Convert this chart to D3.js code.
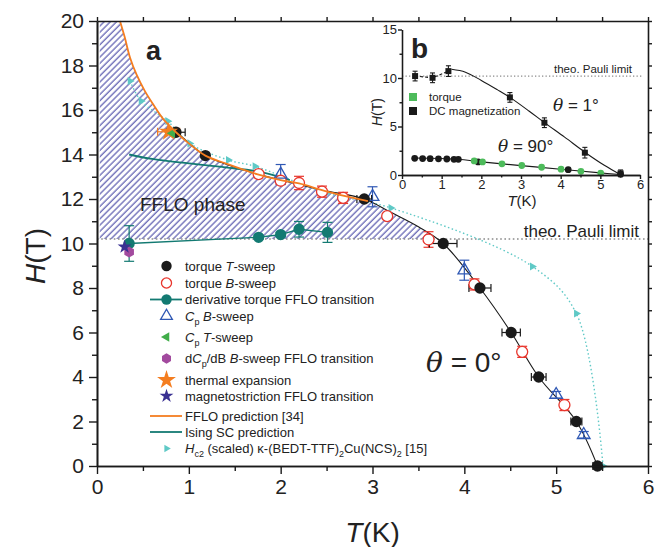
<!DOCTYPE html>
<html>
<head>
<meta charset="utf-8">
<script src="https://cdn.jsdelivr.net/npm/d3@7"></script>
<style>
  body { margin: 0; background: #fff; }
  svg { display: block; font-family: "Liberation Sans", Arial, sans-serif; }
</style>
</head>
<body>
<div id="chart-area"></div>
<script>
// SVG size
let width = 656,
	height = 547;

// ---- panel a data ----
let torqueT_T = [0.86, 1.18, 2.91, 3.77, 4.17, 4.51, 4.81, 5.22, 5.45];
let torqueT_H = [15.0, 13.95, 12.0, 10.0, 8.0, 6.0, 4.0, 2.0, 0.0];
let torqueT_dT = [0.1, 0, 0.08, 0.15, 0.12, 0.1, 0.08, 0.06, 0.05];

let torqueB_T = [1.76, 2.0, 2.2, 2.45, 2.68, 3.16, 3.61, 4.11, 4.63, 5.09];
let torqueB_H = [13.12, 12.82, 12.72, 12.33, 12.05, 11.23, 10.18, 8.16, 5.13, 2.74];
let torqueB_dH = [0.1, 0.15, 0.3, 0.25, 0.25, 0.1, 0.35, 0.25, 0.25, 0.25];

let deriv_T = [0.35, 1.76, 2.0, 2.2, 2.51];
let deriv_H = [10.0, 10.28, 10.4, 10.64, 10.5];
let deriv_dH = [0.8, 0.1, 0.1, 0.35, 0.45];

let cpB_T = [2.0, 3.0, 4.0, 5.0, 5.3];
let cpB_H = [13.1, 12.1, 8.8, 3.2, 1.4];
let cpB_dH = [0.45, 0.45, 0.45, 0.15, 0.15];

let cpT_T = [0.82];
let cpT_H = [14.95];

let dcp_T = [0.35];
let dcp_H = [9.62];

let thermal_T = [0.78];
let thermal_H = [15.02];
let thermal_dT = [0.12];

let magneto_T = [0.3];
let magneto_H = [9.85];

let ffloPred_T = [0.25, 0.3, 0.36, 0.43, 0.52, 0.62, 0.72, 0.86, 1.0, 1.18, 1.4, 1.74, 2.0, 2.2, 2.45, 2.68, 2.95];
let ffloPred_H = [20.0, 19.3, 18.35, 17.6, 16.86, 16.2, 15.6, 15.0, 14.5, 13.95, 13.6, 13.12, 12.85, 12.7, 12.4, 12.15, 11.9];

let ising_T = [0.35, 0.6, 1.0, 1.4, 1.8, 2.1];
let ising_H = [14.0, 13.8, 13.6, 13.42, 13.2, 12.85];

let hc2_T = [0.36, 0.48, 0.77, 1.01, 1.43, 1.72, 2.5, 3.2, 4.74, 5.22, 5.51];
let hc2_H = [17.3, 16.4, 15.5, 14.5, 13.75, 13.47, 12.27, 11.6, 8.97, 6.85, 0.0];

let fit_T = [0.78, 0.86, 1.18, 1.6, 2.0, 2.45, 2.91, 3.2, 3.5, 3.77, 4.17, 4.51, 4.81, 5.22, 5.45];
let fit_H = [15.15, 15.0, 13.95, 13.3, 12.85, 12.4, 12.0, 11.4, 10.75, 10.0, 8.0, 6.0, 4.0, 2.0, 0.0];

let pauliH = 10.2;
let hatchLeftT = 0.03;
let hatchRightT = 3.68;

let xTicks = [0, 1, 2, 3, 4, 5, 6];
let yTicks = [0, 2, 4, 6, 8, 10, 12, 14, 16, 18, 20];

// ---- panel b data ----
let mag1_T = [0.33, 0.77, 1.17, 2.72, 3.59, 4.61, 5.51];
let mag1_H = [10.2, 10.02, 10.71, 8.0, 5.39, 2.3, 0.17];
let mag1_dH = [0.5, 0.5, 0.55, 0.5, 0.5, 0.55, 0.35];

let mag90_T = [0.32, 0.52, 0.71, 0.92, 1.13, 1.31, 1.42, 1.92, 4.19, 5.51];
let mag90_H = [1.72, 1.7, 1.68, 1.67, 1.65, 1.62, 1.62, 1.35, 0.55, 0.1];

let torque90_T = [1.82, 2.03, 2.52, 3.02, 3.52, 4.01, 4.51, 5.01];
let torque90_H = [1.45, 1.35, 1.15, 0.98, 0.8, 0.6, 0.38, 0.2];

let fit1_T = [1.25, 1.6, 2.0, 2.4, 2.72, 3.2, 3.59, 4.1, 4.61, 5.1, 5.5];
let fit1_H = [10.9, 10.6, 9.75, 8.8, 8.0, 6.6, 5.4, 3.9, 2.35, 1.0, 0.05];
let dash1_T = [0.33, 0.77, 1.17, 1.25];
let dash1_H = [10.2, 10.02, 10.71, 10.9];

let fit90_T = [0.3, 1.4, 2.0, 3.0, 4.0, 5.0, 5.5];
let fit90_H = [1.75, 1.62, 1.35, 0.97, 0.6, 0.22, 0.05];

let insetXTicks = [0, 1, 2, 3, 4, 5, 6];
let insetYTicks = [0, 5, 10, 15];

// colours
const cBlack = "#1a1a1a", cRed = "#e8352c", cTeal = "#137a72", cBlue = "#2f58b4",
	cGreen = "#41ad4a", cPurple = "#a24a9e", cOrange = "#f47d20", cNavy = "#3a3192",
	cCyan = "#5fc9c6", cHatch = "#4a4aa6", cInsetGreen = "#4dbb5b";

let svg = d3.select("#chart-area")
	.append("svg")
	.attr("width", width)
	.attr("height", height);

let x = d3.scaleLinear().domain([0, 6]).range([97, 648]);
let y = d3.scaleLinear().domain([0, 20]).range([466, 21]);

let zip = (a, b) => a.map((v, i) => [v, b[i]]);

// hatch pattern
svg.append("defs").append("pattern")
	.attr("id", "hatch")
	.attr("patternUnits", "userSpaceOnUse")
	.attr("width", 4.4).attr("height", 4.4)
	.attr("patternTransform", "rotate(45)")
	.append("line")
	.attr("x1", 1).attr("y1", 0).attr("x2", 1).attr("y2", 4.4)
	.attr("stroke", cHatch).attr("stroke-width", 1.1);

// FFLO region polygon
let region = [[hatchLeftT, 20]]
	.concat(zip(ffloPred_T, ffloPred_H))
	.concat(zip(fit_T, fit_H).filter(d => d[0] > 2.95 && d[0] < hatchRightT))
	.concat([[hatchRightT, pauliH], [hatchLeftT, pauliH]]);

svg.append("path")
	.attr("d", d3.line().x(d => x(d[0])).y(d => y(d[1]))(region) + "Z")
	.attr("fill", "url(#hatch)");

// Pauli limit
svg.append("line")
	.attr("x1", x(0)).attr("x2", x(6))
	.attr("y1", y(pauliH)).attr("y2", y(pauliH))
	.attr("stroke", "#8a8a8a").attr("stroke-width", 1.6)
	.attr("stroke-dasharray", "1.6,2.6");

svg.append("text")
	.attr("x", 639).attr("y", 237)
	.attr("text-anchor", "end")
	.attr("font-size", 17)
	.attr("fill", "#222")
	.text("theo. Pauli limit");

// lines
let line = d3.line().x(d => x(d[0])).y(d => y(d[1])).curve(d3.curveCatmullRom);

svg.append("path").attr("d", line(zip(hc2_T, hc2_H)))
	.attr("fill", "none").attr("stroke", cCyan).attr("stroke-width", 1.4)
	.attr("stroke-dasharray", "1.5,2.5");

svg.append("path").attr("d", line(zip(fit_T, fit_H)))
	.attr("fill", "none").attr("stroke", cBlack).attr("stroke-width", 1.1);

svg.append("path").attr("d", d3.line().x(d => x(d[0])).y(d => y(d[1]))(zip(deriv_T, deriv_H)))
	.attr("fill", "none").attr("stroke", cTeal).attr("stroke-width", 1.3);

svg.append("path").attr("d", line(zip(ising_T, ising_H)))
	.attr("fill", "none").attr("stroke", cTeal).attr("stroke-width", 1.8);

// error bars
function errBarsV(Ts, Hs, dHs, color, cap) {
	Ts.forEach((t, i) => {
		let d = dHs[i];
		if (!d) return;
		let g = svg.append("g").attr("stroke", color).attr("stroke-width", 1.2);
		g.append("line").attr("x1", x(t)).attr("x2", x(t)).attr("y1", y(Hs[i] - d)).attr("y2", y(Hs[i] + d));
		[Hs[i] - d, Hs[i] + d].forEach(h => g.append("line")
			.attr("x1", x(t) - cap).attr("x2", x(t) + cap).attr("y1", y(h)).attr("y2", y(h)));
	});
}
function errBarsH(Ts, Hs, dTs, color, cap) {
	Ts.forEach((t, i) => {
		let d = dTs[i];
		if (!d) return;
		let g = svg.append("g").attr("stroke", color).attr("stroke-width", 1.2);
		g.append("line").attr("x1", x(t - d)).attr("x2", x(t + d)).attr("y1", y(Hs[i])).attr("y2", y(Hs[i]));
		[t - d, t + d].forEach(v => g.append("line")
			.attr("x1", x(v)).attr("x2", x(v)).attr("y1", y(Hs[i]) - cap).attr("y2", y(Hs[i]) + cap));
	});
}

errBarsV(torqueB_T, torqueB_H, torqueB_dH, cRed, 5);
errBarsV(cpB_T, cpB_H, cpB_dH, cBlue, 5);
errBarsV(deriv_T, deriv_H, deriv_dH, cTeal, 5);
errBarsH(torqueT_T, torqueT_H, torqueT_dT, cBlack, 4);
errBarsH(thermal_T, thermal_H, thermal_dT, cOrange, 4);

// custom symbols
let symbolHex = {
	draw(ctx, size) {
		let r = Math.sqrt(size / (1.5 * Math.sqrt(3)));
		for (let i = 0; i < 6; i++) {
			let a = Math.PI / 3 * i + Math.PI / 6;
			if (i === 0) ctx.moveTo(r * Math.cos(a), r * Math.sin(a));
			else ctx.lineTo(r * Math.cos(a), r * Math.sin(a));
		}
		ctx.closePath();
	}
};

function markers(g, xs, ys, Ts, Hs, type, size, fill, stroke, rot, sw) {
	g.selectAll(null)
		.data(zip(Ts, Hs))
		.enter()
		.append("path")
		.attr("d", d3.symbol().type(type).size(size))
		.attr("transform", d => "translate(" + xs(d[0]) + "," + ys(d[1]) + ") rotate(" + (rot || 0) + ")")
		.attr("fill", fill)
		.attr("stroke", stroke || "none")
		.attr("stroke-width", sw || 1.3);
}

let mg = svg.append("g");
markers(mg, x, y, hc2_T, hc2_H, d3.symbolTriangle, 28, cCyan, null, 90);
markers(mg, x, y, deriv_T, deriv_H, d3.symbolCircle, 100, cTeal);
markers(mg, x, y, dcp_T, dcp_H, symbolHex, 80, cPurple);
markers(mg, x, y, magneto_T, magneto_H, d3.symbolStar, 60, cNavy);
markers(mg, x, y, torqueB_T, torqueB_H, d3.symbolCircle, 95, "#fff", cRed, 0, 1.3);
markers(mg, x, y, cpB_T, cpB_H, d3.symbolTriangle, 70, "none", cBlue, 0, 1.3);
markers(mg, x, y, torqueT_T, torqueT_H, d3.symbolCircle, 100, cBlack);
markers(mg, x, y, thermal_T, thermal_H, d3.symbolStar, 110, cOrange);
markers(mg, x, y, cpT_T, cpT_H, d3.symbolTriangle, 40, cGreen, null, -90);

// FFLO prediction line on top
svg.append("path").attr("d", line(zip(ffloPred_T, ffloPred_H)))
	.attr("fill", "none").attr("stroke", cOrange).attr("stroke-width", 1.8);

// axes
function styleAxis(g, fs) {
	g.select(".domain").attr("stroke", cBlack).attr("stroke-width", 1.6);
	g.selectAll(".tick line").attr("stroke", cBlack).attr("stroke-width", 1.4);
	g.selectAll(".tick text").attr("font-size", fs).attr("fill", "#222")
		.attr("font-family", "Liberation Sans, Arial, sans-serif");
}

let halfX = d3.range(0.5, 6, 1);
let oddY = d3.range(1, 20, 2);

svg.append("g").attr("transform", "translate(0," + y(0) + ")")
	.call(d3.axisBottom(x).tickValues(halfX).tickSize(5).tickSizeOuter(0).tickFormat(""))
	.call(g => styleAxis(g, 21));
svg.append("g").attr("transform", "translate(0," + y(0) + ")")
	.call(d3.axisBottom(x).tickValues(xTicks).tickSize(8).tickPadding(5).tickSizeOuter(0).tickFormat(d3.format("d")))
	.call(g => styleAxis(g, 21));
svg.append("g").attr("transform", "translate(" + x(0) + ",0)")
	.call(d3.axisLeft(y).tickValues(oddY).tickSize(5).tickSizeOuter(0).tickFormat(""))
	.call(g => styleAxis(g, 21));
svg.append("g").attr("transform", "translate(" + x(0) + ",0)")
	.call(d3.axisLeft(y).tickValues(yTicks).tickSize(8).tickPadding(5).tickSizeOuter(0).tickFormat(d3.format("d")))
	.call(g => styleAxis(g, 21));
// mirror axes
svg.append("g").attr("transform", "translate(0," + y(20) + ")")
	.call(d3.axisTop(x).tickValues(d3.range(0, 6.01, 0.5)).tickSize(4).tickSizeOuter(0).tickFormat(""))
	.call(g => styleAxis(g, 21));
svg.append("g").attr("transform", "translate(" + x(6) + ",0)")
	.call(d3.axisRight(y).tickValues(d3.range(0, 20.01, 1)).tickSize(4).tickSizeOuter(0).tickFormat(""))
	.call(g => styleAxis(g, 21));

// axis titles
svg.append("text")
	.attr("transform", "translate(45," + 256 + ") rotate(-90)")
	.attr("text-anchor", "middle")
	.attr("font-size", 28)
	.attr("fill", "#222")
	.call(t => {
		t.append("tspan").attr("font-style", "italic").text("H");
		t.append("tspan").text("(T)");
	});

svg.append("text")
	.attr("x", x(3)).attr("y", 542)
	.attr("text-anchor", "middle")
	.attr("font-size", 28)
	.attr("fill", "#222")
	.call(t => {
		t.append("tspan").attr("font-style", "italic").text("T");
		t.append("tspan").text("(K)");
	});

// annotations
svg.append("text").attr("x", 146).attr("y", 60)
	.attr("font-size", 27).attr("font-weight", "bold").attr("fill", "#222").text("a");
svg.append("text").attr("x", 140).attr("y", 211)
	.attr("font-size", 19).attr("fill", "#222").text("FFLO phase");
svg.append("text").attr("x", 426).attr("y", 372)
	.attr("font-size", 28).attr("fill", "#222")
	.call(t => {
		t.append("tspan").attr("font-style", "italic").attr("font-family", "DejaVu Serif, serif").text("θ");
		t.append("tspan").text(" = 0°");
	});

// legend
let legendLabels = [
	[["torque "], ["T", "i"], ["-sweep"]],
	[["torque "], ["B", "i"], ["-sweep"]],
	[["derivative torque FFLO transition"]],
	[["C", "i"], ["p", "s"], [" "], ["B", "i"], ["-sweep"]],
	[["C", "i"], ["p", "s"], [" "], ["T", "i"], ["-sweep"]],
	[["d"], ["C", "i"], ["p", "s"], ["/dB "], ["B", "i"], ["-sweep FFLO transition"]],
	[["thermal expansion"]],
	[["magnetostriction FFLO transition"]],
	[["FFLO prediction [34]"]],
	[["Ising SC prediction"]],
	[["H", "i"], ["c2", "s"], [" (scaled) κ-(BEDT-TTF)"], ["2", "s"], ["Cu(NCS)"], ["2", "s"], [" [15]"]]
];
let legendY = [266, 283, 299.5, 316, 337, 358.5, 380, 396, 416, 432, 448.5];
let legendSym = [
	{type: d3.symbolCircle, size: 85, fill: cBlack},
	{type: d3.symbolCircle, size: 80, fill: "#fff", stroke: cRed},
	{type: d3.symbolCircle, size: 85, fill: cTeal, line: cTeal},
	{type: d3.symbolTriangle, size: 60, fill: "none", stroke: cBlue},
	{type: d3.symbolTriangle, size: 40, fill: cGreen, rot: -90},
	{type: symbolHex, size: 70, fill: cPurple},
	{type: d3.symbolStar, size: 110, fill: cOrange},
	{type: d3.symbolStar, size: 60, fill: cNavy},
	{line: cOrange},
	{line: cTeal},
	{type: d3.symbolTriangle, size: 24, fill: cCyan, rot: 90}
];

let legend = svg.append("g").attr("font-size", 13).attr("fill", "#222");
legendLabels.forEach((parts, i) => {
	let ly = legendY[i], s = legendSym[i];
	if (s.line) {
		legend.append("line").attr("x1", 150).attr("x2", 182).attr("y1", ly).attr("y2", ly)
			.attr("stroke", s.line).attr("stroke-width", 1.8);
	}
	if (s.type) {
		legend.append("path")
			.attr("d", d3.symbol().type(s.type).size(s.size))
			.attr("transform", "translate(166.5," + ly + ") rotate(" + (s.rot || 0) + ")")
			.attr("fill", s.fill).attr("stroke", s.stroke || "none").attr("stroke-width", 1.3);
	}
	let t = legend.append("text").attr("x", 185).attr("y", ly + 4.5);
	let prevSub = false;
	parts.forEach(p => {
		let ts = t.append("tspan").text(p[0]);
		let sub = p[1] === "s";
		if (p[1] === "i") ts.attr("font-style", "italic");
		if (sub) ts.attr("font-size", 9).attr("dy", 4);
		else if (prevSub) ts.attr("dy", -4);
		prevSub = sub;
	});
});

// ---- inset b ----
let xi = d3.scaleLinear().domain([0, 6]).range([402, 640]);
let yi = d3.scaleLinear().domain([0, 15]).range([175, 29.5]);
let inset = svg.append("g");

inset.append("line")
	.attr("x1", xi(0)).attr("x2", xi(6.05))
	.attr("y1", yi(pauliH)).attr("y2", yi(pauliH))
	.attr("stroke", "#8a8a8a").attr("stroke-width", 1.3)
	.attr("stroke-dasharray", "1.3,2.2");
inset.append("text").attr("x", 632).attr("y", 73).attr("text-anchor", "end")
	.attr("font-size", 11.5).attr("fill", "#222").text("theo. Pauli limit");

let iline = d3.line().x(d => xi(d[0])).y(d => yi(d[1])).curve(d3.curveCatmullRom);
inset.append("path").attr("d", iline(zip(fit1_T, fit1_H)))
	.attr("fill", "none").attr("stroke", cBlack).attr("stroke-width", 1.1);
inset.append("path").attr("d", d3.line().x(d => xi(d[0])).y(d => yi(d[1]))(zip(dash1_T, dash1_H)))
	.attr("fill", "none").attr("stroke", cBlack).attr("stroke-width", 1.1).attr("stroke-dasharray", "3,2");
inset.append("path").attr("d", iline(zip(fit90_T, fit90_H)))
	.attr("fill", "none").attr("stroke", cBlack).attr("stroke-width", 1.1);

mag1_T.forEach((t, i) => {
	let g = inset.append("g").attr("stroke", cBlack).attr("stroke-width", 1.1);
	let d = mag1_dH[i];
	g.append("line").attr("x1", xi(t)).attr("x2", xi(t)).attr("y1", yi(mag1_H[i] - d)).attr("y2", yi(mag1_H[i] + d));
	[mag1_H[i] - d, mag1_H[i] + d].forEach(h => g.append("line")
		.attr("x1", xi(t) - 2.5).attr("x2", xi(t) + 2.5).attr("y1", yi(h)).attr("y2", yi(h)));
});

markers(inset, xi, yi, mag90_T, mag90_H, d3.symbolCircle, 36, cBlack);
markers(inset, xi, yi, torque90_T, torque90_H, d3.symbolCircle, 36, cInsetGreen);
markers(inset, xi, yi, mag1_T, mag1_H, d3.symbolSquare, 36, cBlack);

inset.append("g").attr("transform", "translate(0," + yi(0) + ")")
	.call(d3.axisBottom(xi).tickValues(d3.range(0.5, 6, 1)).tickSize(2.5).tickSizeOuter(0).tickFormat(""))
	.call(g => styleAxis(g, 13));
inset.append("g").attr("transform", "translate(0," + yi(0) + ")")
	.call(d3.axisBottom(xi).tickValues(insetXTicks).tickSize(4).tickPadding(1).tickSizeOuter(0).tickFormat(d3.format("d")))
	.call(g => styleAxis(g, 13));
inset.append("g").attr("transform", "translate(" + xi(0) + ",0)")
	.call(d3.axisLeft(yi).tickValues([2.5, 7.5, 12.5]).tickSize(2.5).tickSizeOuter(0).tickFormat(""))
	.call(g => styleAxis(g, 13));
inset.append("g").attr("transform", "translate(" + xi(0) + ",0)")
	.call(d3.axisLeft(yi).tickValues(insetYTicks).tickSize(4).tickPadding(1).tickSizeOuter(0).tickFormat(d3.format("d")))
	.call(g => styleAxis(g, 13));
inset.selectAll(".domain").attr("stroke-width", 1.3);

inset.append("text")
	.attr("transform", "translate(382,112) rotate(-90)")
	.attr("text-anchor", "middle").attr("font-size", 14).attr("fill", "#222")
	.call(t => {
		t.append("tspan").attr("font-style", "italic").text("H");
		t.append("tspan").text("(T)");
	});
inset.append("text")
	.attr("x", 522).attr("y", 206)
	.attr("text-anchor", "middle").attr("font-size", 15).attr("fill", "#222")
	.call(t => {
		t.append("tspan").attr("font-style", "italic").text("T");
		t.append("tspan").text("(K)");
	});

inset.append("text").attr("x", 411).attr("y", 58)
	.attr("font-size", 28).attr("font-weight", "bold").attr("fill", "#222").text("b");

// inset legend
inset.append("rect").attr("x", 409).attr("y", 93).attr("width", 8).attr("height", 8).attr("fill", cInsetGreen);
inset.append("rect").attr("x", 409).attr("y", 107).attr("width", 8).attr("height", 8).attr("fill", cBlack);
inset.append("text").attr("x", 429).attr("y", 101).attr("font-size", 11.5).attr("fill", "#222").text("torque");
inset.append("text").attr("x", 429).attr("y", 115).attr("font-size", 11.5).attr("fill", "#222").text("DC magnetization");

inset.append("text").attr("x", 553).attr("y", 111).attr("font-size", 17).attr("fill", "#222")
	.call(t => {
		t.append("tspan").attr("font-style", "italic").attr("font-family", "DejaVu Serif, serif").text("θ");
		t.append("tspan").text(" = 1°");
	});
inset.append("text").attr("x", 498).attr("y", 152).attr("font-size", 17).attr("fill", "#222")
	.call(t => {
		t.append("tspan").attr("font-style", "italic").attr("font-family", "DejaVu Serif, serif").text("θ");
		t.append("tspan").text(" = 90°");
	});
</script>
</body>
</html>
